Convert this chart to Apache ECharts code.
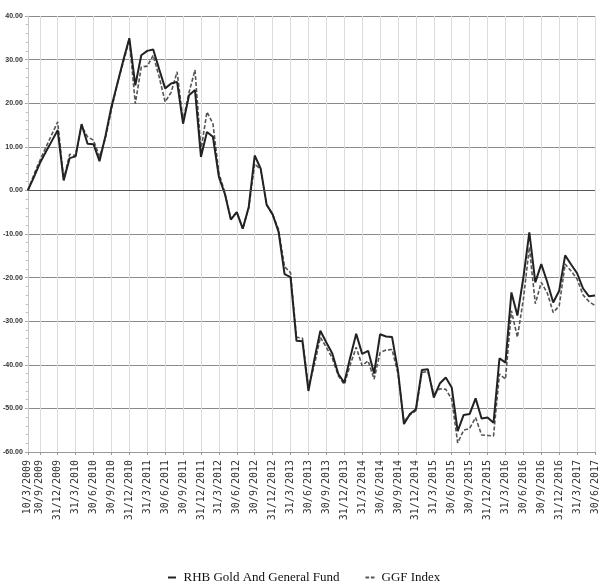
<!DOCTYPE html>
<html>
<head>
<meta charset="utf-8">
<script src="https://cdn.jsdelivr.net/npm/echarts@6/dist/echarts.min.js"></script>
<style>html,body{margin:0;padding:0;background:#fff;}#c{width:600px;height:588px;}</style>
</head>
<body>
<div id="c"></div>
<script>
var categories = [
 "10/3/2009","31/8/2009","30/9/2009","31/10/2009","30/11/2009","31/12/2009",
 "31/1/2010","28/2/2010","31/3/2010","30/4/2010","31/5/2010","30/6/2010","31/7/2010","31/8/2010","30/9/2010","31/10/2010","30/11/2010","31/12/2010",
 "31/1/2011","28/2/2011","31/3/2011","30/4/2011","31/5/2011","30/6/2011","31/7/2011","31/8/2011","30/9/2011","31/10/2011","30/11/2011","31/12/2011",
 "31/1/2012","29/2/2012","31/3/2012","30/4/2012","31/5/2012","30/6/2012","31/7/2012","31/8/2012","30/9/2012","31/10/2012","30/11/2012","31/12/2012",
 "31/1/2013","28/2/2013","31/3/2013","30/4/2013","31/5/2013","30/6/2013","31/7/2013","31/8/2013","30/9/2013","31/10/2013","30/11/2013","31/12/2013",
 "31/1/2014","28/2/2014","31/3/2014","30/4/2014","31/5/2014","30/6/2014","31/7/2014","31/8/2014","30/9/2014","31/10/2014","30/11/2014","31/12/2014",
 "31/1/2015","28/2/2015","31/3/2015","30/4/2015","31/5/2015","30/6/2015","31/7/2015","31/8/2015","30/9/2015","31/10/2015","30/11/2015","31/12/2015",
 "31/1/2016","29/2/2016","31/3/2016","30/4/2016","31/5/2016","30/6/2016","31/7/2016","31/8/2016","30/9/2016","31/10/2016","30/11/2016","31/12/2016",
 "31/1/2017","28/2/2017","31/3/2017","30/4/2017","31/5/2017","30/6/2017"
];
var labelledDates = [
 "10/3/2009","30/9/2009","31/12/2009","31/3/2010","30/6/2010","30/9/2010","31/12/2010",
 "31/3/2011","30/6/2011","30/9/2011","31/12/2011","31/3/2012","30/6/2012","30/9/2012","31/12/2012",
 "31/3/2013","30/6/2013","30/9/2013","31/12/2013","31/3/2014","30/6/2014","30/9/2014","31/12/2014",
 "31/3/2015","30/6/2015","30/9/2015","31/12/2015","31/3/2016","30/6/2016","30/9/2016","31/12/2016",
 "31/3/2017","30/6/2017"
];
var fundName = "RHB Gold And General Fund";
var indexName = "GGF Index";
var fundValues = [
 0,3.0,6.2,8.8,11.3,13.8,
 2.3,7.4,7.8,15.2,10.7,10.6,6.7,12.5,19.2,24.5,29.9,34.9,
 24.1,31.0,32.0,32.3,27.8,23.4,24.5,24.9,15.3,21.8,23.0,7.7,
 13.4,12.3,3.1,-0.8,-6.7,-5.0,-8.8,-3.8,8.0,5.0,-3.3,-5.5,
 -9.5,-19.2,-19.9,-34.5,-34.6,-46.0,-38.7,-32.2,-34.9,-37.4,-42.1,-44.1,
 -38.3,-32.9,-37.5,-36.8,-42.0,-33.0,-33.5,-33.6,-41.4,-53.6,-51.3,-50.2,
 -41.2,-41.0,-47.5,-44.3,-42.9,-45.2,-55.2,-51.5,-51.3,-47.7,-52.3,-52.1,
 -53.3,-38.5,-39.5,-23.4,-28.7,-20.0,-9.6,-21.1,-16.9,-21.0,-25.7,-23.0,
 -14.9,-17.0,-19.0,-22.5,-24.3,-24.1
];
var indexValues = [
 0,3.6,6.8,9.8,12.8,15.7,
 2.5,8.3,8.0,14.8,12.3,11.5,7.7,12.0,18.5,24.5,29.5,34.5,
 19.9,28.3,28.5,31.0,26.0,20.3,22.5,27.2,16.0,22.5,27.6,9.2,
 18.0,15.3,4.0,-0.5,-6.5,-5.0,-8.8,-4.0,6.1,4.8,-3.3,-5.5,
 -9.0,-17.5,-18.9,-33.7,-33.9,-45.2,-40.0,-33.7,-36.0,-38.5,-42.5,-44.5,
 -40.0,-36.0,-40.2,-39.1,-43.3,-37.2,-36.6,-36.5,-42.0,-53.0,-51.5,-50.5,
 -41.8,-41.5,-46.8,-45.5,-45.6,-47.9,-57.9,-55.0,-54.6,-52.1,-56.1,-56.2,
 -56.3,-42.1,-43.3,-27.6,-33.7,-25.0,-13.0,-26.0,-21.1,-23.5,-28.0,-26.5,
 -16.9,-18.5,-20.3,-24.0,-25.5,-26.4
];

var showIdx = function (idx, val) {
  return labelledDates.indexOf(categories[idx]) !== -1;
};

var chart = echarts.init(document.getElementById('c'), null, {renderer: 'canvas'});
chart.setOption({
  animation: false,
  backgroundColor: '#ffffff',
  grid: {left: 27, right: 2, top: 16, bottom: 136, containLabel: false},
  legend: {
    data: [
      {name: fundName, icon: 'path://M0,0h8v2h-8z'},
      {name: indexName, icon: 'path://M0,0h4v2h-4z M6,0h4v2h-4z'}
    ],
    left: 163, top: 566,
    itemWidth: 9, itemHeight: 2, itemGap: 26,
    textStyle: {fontFamily: '"Liberation Serif", "DejaVu Serif", serif', fontSize: 13, color: '#111', padding: [0, 0, 0, 2]}
  },
  xAxis: {
    type: 'category',
    boundaryGap: false,
    data: categories,
    axisLine: {show: true, onZero: false, lineStyle: {color: '#999', width: 1}},
    axisTick: {show: true, interval: showIdx, length: 3, lineStyle: {color: '#999'}},
    axisLabel: {
      interval: showIdx, rotate: 90, margin: 8,
      fontFamily: '"DejaVu Sans Mono", monospace', fontSize: 10, color: '#333'
    },
    splitLine: {show: true, interval: showIdx, lineStyle: {color: '#dcdcdc', width: 1}}
  },
  yAxis: {
    type: 'value',
    min: -60, max: 40, interval: 10,
    axisLine: {show: true, lineStyle: {color: '#c8c8c8'}},
    axisTick: {show: true, length: 3, lineStyle: {color: '#aaa'}},
    minorTick: {show: true, splitNumber: 5, length: 2, lineStyle: {color: '#bbb'}},
    axisLabel: {
      margin: 5, fontFamily: '"Liberation Sans Narrow", "Liberation Sans", sans-serif',
      fontSize: 7, color: '#333', fontWeight: 'bold',
      formatter: function (v) { return v.toFixed(2); }
    },
    splitLine: {show: true, lineStyle: {color: '#8a8a8a', width: 1}}
  },
  series: [
    {
      name: fundName, type: 'line', data: fundValues, symbol: 'none', z: 3,
      lineStyle: {color: '#222', width: 2}, itemStyle: {color: '#222'},
      markLine: {
        silent: true, symbol: 'none', label: {show: false},
        lineStyle: {color: '#555', width: 1, type: 'solid'},
        data: [{yAxis: 0}]
      }
    },
    {
      name: indexName, type: 'line', data: indexValues, symbol: 'none', z: 2,
      lineStyle: {color: '#555', width: 1.6, type: [4, 2]}, itemStyle: {color: '#555'}
    }
  ]
});
</script>
</body>
</html>
